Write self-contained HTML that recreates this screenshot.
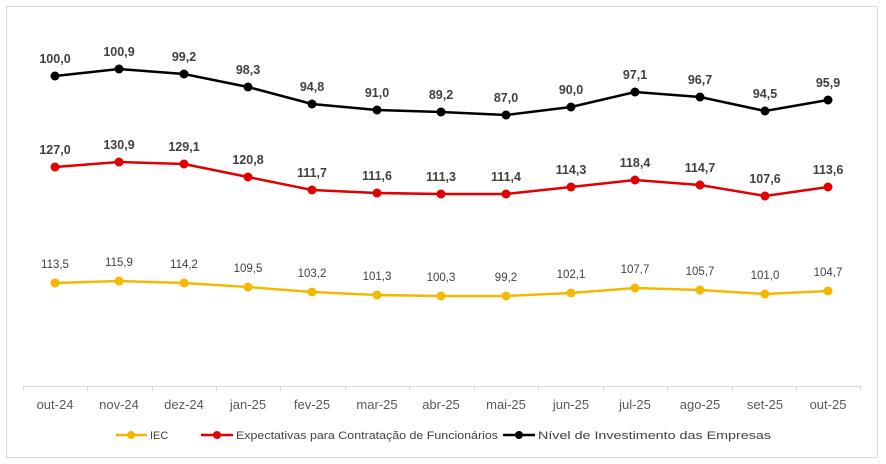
<!DOCTYPE html>
<html><head><meta charset="utf-8"><style>
html,body{margin:0;padding:0;background:#fff;}
svg{display:block;font-family:"Liberation Sans",Arial,sans-serif;}
</style></head><body>
<svg width="886" height="464" viewBox="0 0 886 464" xmlns="http://www.w3.org/2000/svg">
<rect x="6.5" y="6.5" width="871" height="451" fill="#fff" stroke="#d9d9d9" stroke-width="1"/>
<line x1="23" y1="386.5" x2="861" y2="386.5" stroke="#d9d9d9" stroke-width="1"/>
<g stroke="#d9d9d9" stroke-width="1">
<line x1="23.5" y1="386" x2="23.5" y2="391"/><line x1="87.5" y1="386" x2="87.5" y2="391"/><line x1="152.5" y1="386" x2="152.5" y2="391"/><line x1="216.5" y1="386" x2="216.5" y2="391"/><line x1="280.5" y1="386" x2="280.5" y2="391"/><line x1="345.5" y1="386" x2="345.5" y2="391"/><line x1="409.5" y1="386" x2="409.5" y2="391"/><line x1="474.5" y1="386" x2="474.5" y2="391"/><line x1="538.5" y1="386" x2="538.5" y2="391"/><line x1="603.5" y1="386" x2="603.5" y2="391"/><line x1="667.5" y1="386" x2="667.5" y2="391"/><line x1="732.5" y1="386" x2="732.5" y2="391"/><line x1="796.5" y1="386" x2="796.5" y2="391"/><line x1="860.5" y1="386" x2="860.5" y2="391"/>
</g>
<g font-size="13" fill="#595959" text-anchor="middle">
<text x="55" y="409">out-24</text><text x="119" y="409">nov-24</text><text x="184" y="409">dez-24</text><text x="248" y="409">jan-25</text><text x="312" y="409">fev-25</text><text x="377" y="409">mar-25</text><text x="441" y="409">abr-25</text><text x="506" y="409">mai-25</text><text x="571" y="409">jun-25</text><text x="635" y="409">jul-25</text><text x="700" y="409">ago-25</text><text x="765" y="409">set-25</text><text x="828" y="409">out-25</text>
</g>
<!-- black -->
<polyline fill="none" stroke="#000" stroke-width="2.5" points="55,76 119,69 184,74 248,87 312,104 377,110 441,112 506,115 571,107 635,92 700,97 765,111 828,100"/>
<g fill="#000"><circle cx="55" cy="76" r="4.5"/><circle cx="119" cy="69" r="4.5"/><circle cx="184" cy="74" r="4.5"/><circle cx="248" cy="87" r="4.5"/><circle cx="312" cy="104" r="4.5"/><circle cx="377" cy="110" r="4.5"/><circle cx="441" cy="112" r="4.5"/><circle cx="506" cy="115" r="4.5"/><circle cx="571" cy="107" r="4.5"/><circle cx="635" cy="92" r="4.5"/><circle cx="700" cy="97" r="4.5"/><circle cx="765" cy="111" r="4.5"/><circle cx="828" cy="100" r="4.5"/></g>
<g font-size="12.5" font-weight="bold" fill="#404040" text-anchor="middle">
<text x="55" y="63">100,0</text><text x="119" y="56">100,9</text><text x="184" y="61">99,2</text><text x="248" y="74">98,3</text><text x="312" y="91">94,8</text><text x="377" y="97">91,0</text><text x="441" y="99">89,2</text><text x="506" y="102">87,0</text><text x="571" y="94">90,0</text><text x="635" y="79">97,1</text><text x="700" y="84">96,7</text><text x="765" y="98">94,5</text><text x="828" y="87">95,9</text>
</g>
<!-- red -->
<polyline fill="none" stroke="#e00000" stroke-width="2.5" points="55,167 119,162 184,164 248,177 312,190 377,193 441,194 506,194 571,187 635,180 700,185 765,196 828,187"/>
<g fill="#e00000"><circle cx="55" cy="167" r="4.5"/><circle cx="119" cy="162" r="4.5"/><circle cx="184" cy="164" r="4.5"/><circle cx="248" cy="177" r="4.5"/><circle cx="312" cy="190" r="4.5"/><circle cx="377" cy="193" r="4.5"/><circle cx="441" cy="194" r="4.5"/><circle cx="506" cy="194" r="4.5"/><circle cx="571" cy="187" r="4.5"/><circle cx="635" cy="180" r="4.5"/><circle cx="700" cy="185" r="4.5"/><circle cx="765" cy="196" r="4.5"/><circle cx="828" cy="187" r="4.5"/></g>
<g font-size="12.5" font-weight="bold" fill="#404040" text-anchor="middle">
<text x="55" y="154">127,0</text><text x="119" y="149">130,9</text><text x="184" y="151">129,1</text><text x="248" y="164">120,8</text><text x="312" y="177">111,7</text><text x="377" y="180">111,6</text><text x="441" y="181">111,3</text><text x="506" y="181">111,4</text><text x="571" y="174">114,3</text><text x="635" y="167">118,4</text><text x="700" y="172">114,7</text><text x="765" y="183">107,6</text><text x="828" y="174">113,6</text>
</g>
<!-- yellow -->
<polyline fill="none" stroke="#f5b800" stroke-width="2.5" points="55,283 119,281 184,283 248,287 312,292 377,295 441,296 506,296 571,293 635,288 700,290 765,294 828,291"/>
<g fill="#f5b800"><circle cx="55" cy="283" r="4.5"/><circle cx="119" cy="281" r="4.5"/><circle cx="184" cy="283" r="4.5"/><circle cx="248" cy="287" r="4.5"/><circle cx="312" cy="292" r="4.5"/><circle cx="377" cy="295" r="4.5"/><circle cx="441" cy="296" r="4.5"/><circle cx="506" cy="296" r="4.5"/><circle cx="571" cy="293" r="4.5"/><circle cx="635" cy="288" r="4.5"/><circle cx="700" cy="290" r="4.5"/><circle cx="765" cy="294" r="4.5"/><circle cx="828" cy="291" r="4.5"/></g>
<g font-size="11.5" fill="#404040" text-anchor="middle">
<text x="55" y="268">113,5</text><text x="119" y="266">115,9</text><text x="184" y="268">114,2</text><text x="248" y="272">109,5</text><text x="312" y="277">103,2</text><text x="377" y="280">101,3</text><text x="441" y="281">100,3</text><text x="506" y="281">99,2</text><text x="571" y="278">102,1</text><text x="635" y="273">107,7</text><text x="700" y="275">105,7</text><text x="765" y="279">101,0</text><text x="828" y="276">104,7</text>
</g>
<!-- legend -->
<line x1="116" y1="435" x2="147" y2="435" stroke="#f5b800" stroke-width="2.5"/><circle cx="131" cy="435" r="4" fill="#f5b800"/>
<line x1="201" y1="435" x2="233" y2="435" stroke="#e00000" stroke-width="2.5"/><circle cx="217" cy="435" r="4" fill="#e00000"/>
<line x1="503" y1="435" x2="535" y2="435" stroke="#000" stroke-width="2.5"/><circle cx="519" cy="435" r="4" fill="#000"/>
<g font-size="11" fill="#404040">
<text x="150" y="439">IEC</text>
<text x="236" y="439" textLength="262" lengthAdjust="spacingAndGlyphs">Expectativas para Contratação de Funcionários</text>
<text x="538" y="439" textLength="233" lengthAdjust="spacingAndGlyphs">Nível de Investimento das Empresas</text>
</g>
</svg>
</body></html>
